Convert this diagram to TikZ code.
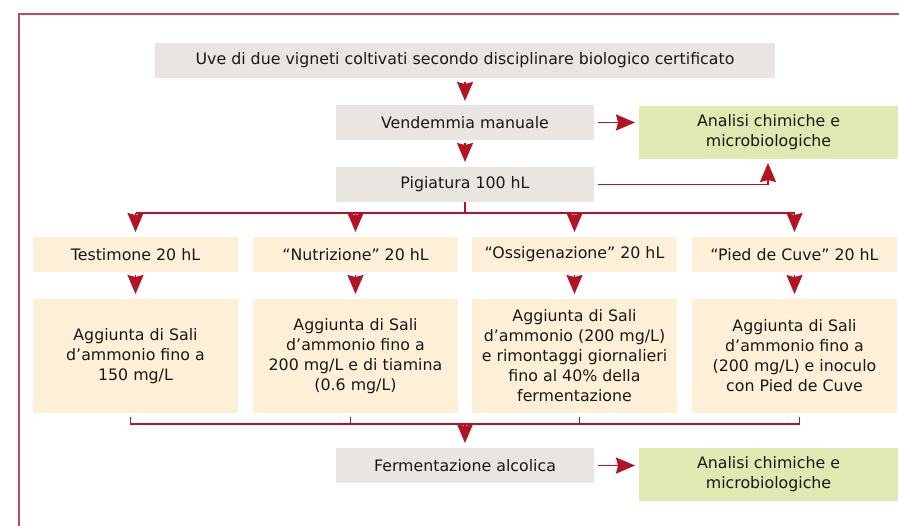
\documentclass[tikz,border=0pt]{standalone}
\usepackage{fontspec}
\setmainfont{DejaVu Sans}
\usetikzlibrary{arrows.meta}
\definecolor{boxgray}{RGB}{233,229,225}
\definecolor{boxbeige}{RGB}{254,240,214}
\definecolor{boxgreen}{RGB}{225,232,177}
\definecolor{arrred}{RGB}{178,20,38}
\definecolor{framered}{RGB}{200,72,90}
\tikzset{
  base/.style={inner sep=0pt, outer sep=0pt, align=center, font=\fontsize{15.8}{20}\selectfont, text=black!90},
  graybox/.style={base, fill=boxgray, minimum height=35pt},
  beigebox/.style={base, fill=boxbeige, minimum width=205pt},
  greenbox/.style={base, fill=boxgreen, minimum width=259pt, minimum height=53pt},
  conn/.style={draw=arrred, line width=1.5pt},
  arr/.style={conn, -{Stealth[length=19pt,width=16pt,inset=2pt]}},
}
\begin{document}
\begin{tikzpicture}[x=1pt,y=-1pt]
\useasboundingbox (0,0) rectangle (899,525);
% frame
\draw[framered, line width=2pt] (19,526) -- (19,14) -- (900,14);
% nodes
\node[graybox, minimum width=620pt] (top) at (465,60.5) {Uve di due vigneti coltivati secondo disciplinare biologico certificato};
\node[graybox, minimum width=258pt] (vend) at (465,122.5) {Vendemmia manuale};
\node[graybox, minimum width=258pt] (pig) at (465,184.5) {Pigiatura 100 hL};
\node[greenbox] (an1) at (768.5,132.5) {Analisi chimiche e\\microbiologiche};
\node[beigebox, minimum height=35pt] (t1) at (135.5,254.5) {Testimone 20 hL};
\node[beigebox, minimum height=35pt] (t2) at (355.5,254.5) {“Nutrizione” 20 hL};
\node[beigebox, minimum height=35pt] (t3) at (574.5,254.5) {“Ossigenazione” 20 hL};
\node[beigebox, minimum height=35pt] (t4) at (794.5,254.5) {“Pied de Cuve” 20 hL};
\node[beigebox, minimum height=114pt] (b1) at (135.5,356) {Aggiunta di Sali\\d’ammonio fino a\\150 mg/L};
\node[beigebox, minimum height=114pt] (b2) at (355.5,356) {Aggiunta di Sali\\d’ammonio fino a\\200 mg/L e di tiamina\\(0.6 mg/L)};
\node[beigebox, minimum height=114pt] (b3) at (574.5,356) {Aggiunta di Sali\\d’ammonio (200 mg/L)\\e rimontaggi giornalieri\\fino al 40\% della\\fermentazione};
\node[beigebox, minimum height=114pt] (b4) at (794.5,356) {Aggiunta di Sali\\d’ammonio fino a\\(200 mg/L) e inoculo\\con Pied de Cuve};
\node[graybox, minimum width=258pt] (ferm) at (465,465.5) {Fermentazione alcolica};
\node[greenbox] (an2) at (768.5,474.5) {Analisi chimiche e\\microbiologiche};
% coordinates
\coordinate (split) at (465,213);
\coordinate (merge) at (465,424);
\coordinate (corner) at (768,184.5);
% connectors
\draw[arr, shorten <=4pt, shorten >=4pt] (top) -- (vend);
\draw[arr, shorten <=3pt, shorten >=5pt] (vend) -- (pig);
\draw[arr, shorten <=4pt, shorten >=4pt] (vend.east) -- (an1.west |- vend.east);
\draw[arr, shorten <=4pt, shorten >=4pt] (pig.east) -- (corner) -- (an1.south -| corner);
\draw[conn] (pig.south) -- (split);
\draw[conn] (t1.north |- split) -- (t4.north |- split);
\foreach \t in {t1,t2,t3,t4}{
  \draw[arr, shorten >=5pt] (\t.north |- split) -- (\t.north);
}
\foreach \t/\b in {t1/b1,t2/b2,t3/b3,t4/b4}{
  \draw[arr, shorten <=3pt, shorten >=5pt] (\t.south) -- (\b.north);
}
\draw[conn] (b1.south) ++(-5,4) |- (merge);
\draw[conn] (b4.south) ++(5,4) |- (merge);
\draw[conn] (b2.south) ++(-5,4) -- ++(0,7);
\draw[conn] (b3.south) ++(5,4) -- ++(0,7);
\draw[arr, shorten >=5pt] (merge) -- (ferm.north);
\draw[arr, shorten <=4pt, shorten >=4pt] (ferm.east) -- (an2.west |- ferm.east);
\end{tikzpicture}
\end{document}
